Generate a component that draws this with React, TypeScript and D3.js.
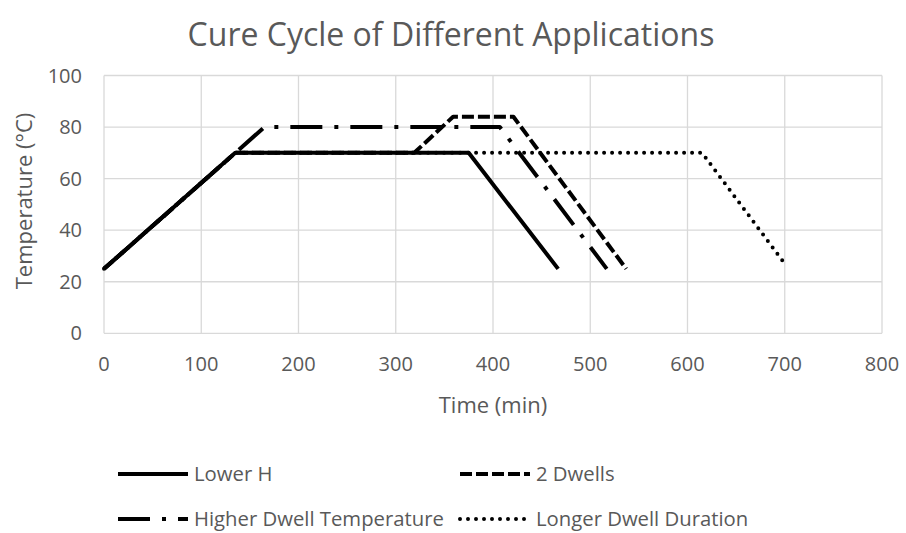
import React from "react";
import * as d3 from "d3";

const W = 906;
const H = 533;

const title = "Cure Cycle of Different Applications";
const xTicks = [0, 100, 200, 300, 400, 500, 600, 700, 800];
const yTicks = [0, 20, 40, 60, 80, 100];

const seriesNames = ["Lower H", "2 Dwells", "Higher Dwell Temperature", "Longer Dwell Duration"];

const lowerHTime = [0, 135, 375, 467];
const lowerHTemp = [25, 70, 70, 25];

const twoDwellsTime = [0, 135, 319, 359, 421, 537];
const twoDwellsTemp = [25, 70, 70, 84, 84, 25];

const higherTime = [0, 165, 407, 517];
const higherTemp = [25, 80, 80, 25];

const longerTime = [0, 135, 615, 700];
const longerTemp = [25, 70, 70, 27];

const FONT = "'Open Sans', sans-serif";
const TXT = "#595959";

const styles = [
  { dash: "none", cap: "butt" },
  { dash: "12 4", cap: "butt" },
  { dash: "32 12 4 12", cap: "butt" },
  { dash: "0 8", cap: "round" },
];

export default function App() {
  const x = d3.scaleLinear().domain([0, 800]).range([104, 882]);
  const y = d3.scaleLinear().domain([0, 100]).range([333.3, 75.5]);
  const line = d3
    .line<[number, number]>()
    .x((d) => x(d[0]))
    .y((d) => y(d[1]));

  const series = [
    lowerHTime.map((t, i) => [t, lowerHTemp[i]] as [number, number]),
    twoDwellsTime.map((t, i) => [t, twoDwellsTemp[i]] as [number, number]),
    higherTime.map((t, i) => [t, higherTemp[i]] as [number, number]),
    longerTime.map((t, i) => [t, longerTemp[i]] as [number, number]),
  ];

  const legendPos = [
    { x: 118, y: 474 },
    { x: 460, y: 474 },
    { x: 118, y: 519 },
    { x: 460, y: 519 },
  ];

  return (
    <svg width={W} height={H} style={{ position: "absolute", left: 0, top: 0, background: "#fff" }} fontFamily={FONT}>
      <rect width={W} height={H} fill="#fff" />
      <text x={451} y={46} textAnchor="middle" fontSize={32} fill={TXT}>
        {title}
      </text>
      {yTicks.map((t) => (
        <line key={"gy" + t} x1={x(0)} x2={x(800)} y1={y(t)} y2={y(t)} stroke="#d9d9d9" strokeWidth={1.3} />
      ))}
      {xTicks.map((t) => (
        <line key={"gx" + t} x1={x(t)} x2={x(t)} y1={y(0)} y2={y(100)} stroke="#d9d9d9" strokeWidth={1.3} />
      ))}
      {yTicks.map((t) => (
        <text key={"ty" + t} x={82} y={y(t)} dy="0.35em" textAnchor="end" fontSize={20} fill={TXT}>
          {t}
        </text>
      ))}
      {xTicks.map((t) => (
        <text key={"tx" + t} x={x(t)} y={364} dy="0.35em" textAnchor="middle" fontSize={20} fill={TXT}>
          {t}
        </text>
      ))}
      <text x={493} y={405} dy="0.35em" textAnchor="middle" fontSize={22} fill={TXT}>
        Time (min)
      </text>
      <text
        transform={`translate(24,201) rotate(-90)`}
        dy="0.35em"
        textAnchor="middle"
        fontSize={22}
        fill={TXT}
      >
        Temperature (°C)
      </text>
      {series.map((s, i) => (
        <path
          key={"s" + i}
          d={line(s) || ""}
          fill="none"
          stroke="#000"
          strokeWidth={4}
          strokeDasharray={styles[i].dash}
          strokeLinecap={styles[i].cap as any}
          strokeLinejoin="round"
        />
      ))}
      {seriesNames.map((n, i) => (
        <g key={"l" + i}>
          <line
            x1={legendPos[i].x}
            x2={legendPos[i].x + 70}
            y1={legendPos[i].y}
            y2={legendPos[i].y}
            stroke="#000"
            strokeWidth={4}
            strokeDasharray={styles[i].dash}
            strokeLinecap={styles[i].cap as any}
          />
          <text x={legendPos[i].x + 76} y={legendPos[i].y} dy="0.35em" fontSize={20.3} fill={TXT}>
            {n}
          </text>
        </g>
      ))}
    </svg>
  );
}
